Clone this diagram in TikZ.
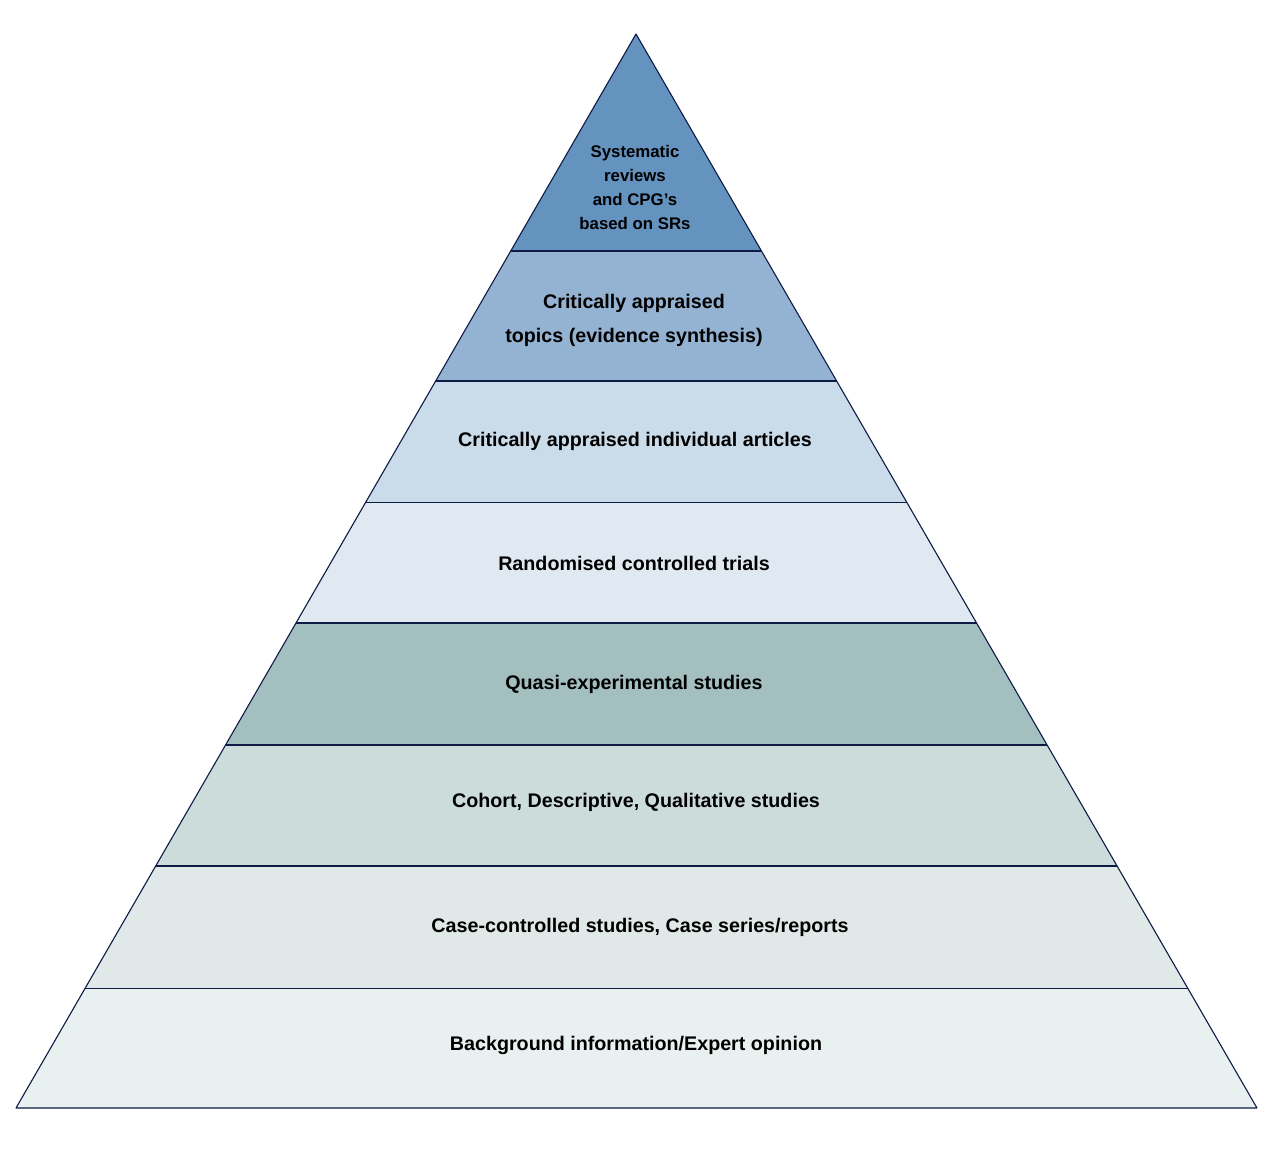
\documentclass[tikz,border=0pt]{standalone}
\usepackage{fontspec}
\setmainfont{Liberation Sans}
\usetikzlibrary{calc}
\definecolor{lineC}{HTML}{0D1B45}
\definecolor{cA}{HTML}{6593BF}
\definecolor{cB}{HTML}{94B3D2}
\definecolor{cC}{HTML}{CADBE9}
\definecolor{cD}{HTML}{E0E8F1}
\definecolor{cE}{HTML}{A3BFBF}
\definecolor{cF}{HTML}{CCDCDB}
\definecolor{cG}{HTML}{E0E9E8}
\definecolor{cH}{HTML}{E9F0F0}
\tikzset{
  layer/.style={draw=lineC, line width=1.1pt, line join=round},
  lbl/.style={font=\bfseries\fontsize{19.7}{34}\selectfont, text=black, align=center, inner sep=0pt},
  toplbl/.style={font=\bfseries\fontsize{16.8}{24}\selectfont, text=black, align=center, inner sep=0pt}
}
\begin{document}
\begin{tikzpicture}[x=1pt,y=-1pt]
\useasboundingbox (0,0) rectangle (1280,1152);
\coordinate (apex) at (636,34);
\coordinate (bl) at (16,1108);
\coordinate (br) at (1257,1108);
\foreach \n/\t in {1/0.2020,2/0.3231,3/0.4358,4/0.5484,5/0.6620,6/0.7747,7/0.8883,8/1.0}{
  \coordinate (L\n) at ($(apex)!\t!(bl)$);
  \coordinate (R\n) at ($(apex)!\t!(br)$);
}
\fill[cA] (apex) -- (R1) -- (L1) -- cycle;
\fill[cB] (L1) -- (R1) -- (R2) -- (L2) -- cycle;
\fill[cC] (L2) -- (R2) -- (R3) -- (L3) -- cycle;
\fill[cD] (L3) -- (R3) -- (R4) -- (L4) -- cycle;
\fill[cE] (L4) -- (R4) -- (R5) -- (L5) -- cycle;
\fill[cF] (L5) -- (R5) -- (R6) -- (L6) -- cycle;
\fill[cG] (L6) -- (R6) -- (R7) -- (L7) -- cycle;
\fill[cH] (L7) -- (R7) -- (R8) -- (L8) -- cycle;
\foreach \n in {1,...,7}{\draw[layer] (L\n) -- (R\n);}
\draw[layer] (apex) -- (bl) -- (br) -- cycle;
\node[toplbl] (t1) at (635,187) {Systematic\\reviews\\and CPG’s\\based on SRs};
\node[lbl] (t2) at (634,320) {Critically appraised\\topics (evidence synthesis)};
\node[lbl] (t3) at (635,441) {Critically appraised individual articles};
\node[lbl] (t4) at (634,563) {Randomised controlled trials};
\node[lbl] (t5) at (634,684) {Quasi-experimental studies};
\node[lbl] (t6) at (636,802) {Cohort, Descriptive, Qualitative studies};
\node[lbl] (t7) at (640,927) {Case-controlled studies, Case series/reports};
\node[lbl] (t8) at (636,1045) {Background information/Expert opinion};
\end{tikzpicture}
\end{document}
